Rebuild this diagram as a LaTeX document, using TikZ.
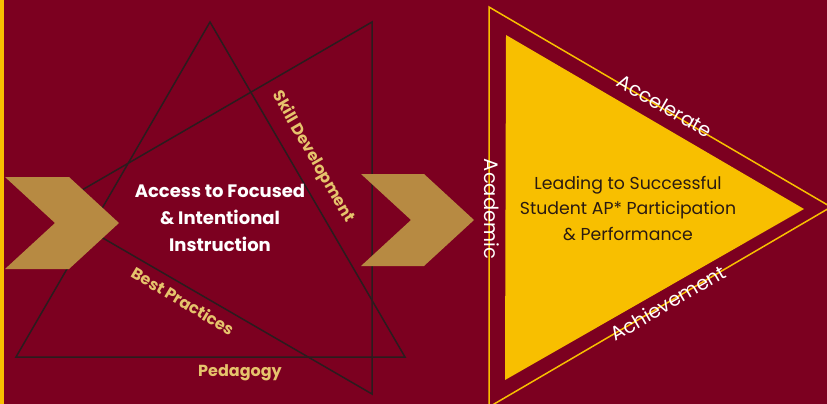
\documentclass[tikz,border=0pt]{standalone}
\usepackage{fontspec}
\setmainfont{Poppins}
\usetikzlibrary{calc}

\definecolor{wine}{HTML}{7C0020}
\definecolor{chevgold}{HTML}{B78A42}
\definecolor{sunyellow}{HTML}{F8BF00}
\definecolor{labelgold}{HTML}{E6C36C}
\definecolor{inkline}{HTML}{2A1C1E}
\definecolor{inktext}{HTML}{2A1A12}

\tikzset{
  edge/.style={draw=inkline, line width=1.5pt},
  chevron/.style={fill=chevgold},
  goldlabel/.style={text=labelgold, font=\bfseries\fontsize{16}{18}\selectfont, inner sep=0pt},
  whitelabel/.style={text=white, font=\fontsize{19.5}{21}\selectfont, inner sep=0pt},
}

\begin{document}
\begin{tikzpicture} [x=1pt,y=-1pt]

\fill[wine] (0,0) rectangle (827,404);
\useasboundingbox (0,0) rectangle (827,404);
\fill[sunyellow] (0,0) rectangle (4,404);

\coordinate (P) at (51,208);
\coordinate (Q) at (372,22);
\coordinate (R) at (372,394);
\coordinate (T) at (210,22);
\coordinate (L) at (16,357);
\coordinate (M) at (405,357);

\draw[edge] (P)--(Q)--(R)--cycle;
\draw[edge] (T)--(L)--(M)--cycle;

% chevrons
\fill[chevron] (5,177)--(69,177)--(119,223)--(69,269)--(5,269)--(55,223)--cycle;
\fill[chevron] (361,174)--(424,174)--(474,220)--(424,266)--(361,266)--(411,220)--cycle;

% right triangle
\coordinate (A) at (489,7);
\coordinate (B) at (831,207);
\coordinate (C) at (489,407);
\draw[sunyellow, line width=1.5pt] (A)--(B)--(C)--cycle;
\fill[sunyellow] (506,35)--(804,209)--(505,380)--cycle;

\node[text=white, font=\bfseries\fontsize{18}{27}\selectfont, align=center] (access) at (220,218)
  {Access to Focused\\ \& Intentional\\ Instruction};
\node[goldlabel, rotate=-60] (skill) at (313,157) {Skill Development};
\node[goldlabel, rotate=-31] (best) at (183,301) {Best Practices};
\node[goldlabel] (peda) at (240,373) {Pedagogy};

\node[whitelabel, rotate=-30] (accel) at (665,106) {Accelerate};
\node[whitelabel, rotate=30] (achieve) at (668,303) {Achievement};
\node[whitelabel, rotate=-90] (acad) at (492,209) {Academic};

\node[text=inktext, font=\fontsize{17.3}{25.5}\selectfont, align=center] (lead) at (628,208)
  {Leading to Successful\\ Student AP* Participation\\ \& Performance};

\end{tikzpicture}
\end{document}
